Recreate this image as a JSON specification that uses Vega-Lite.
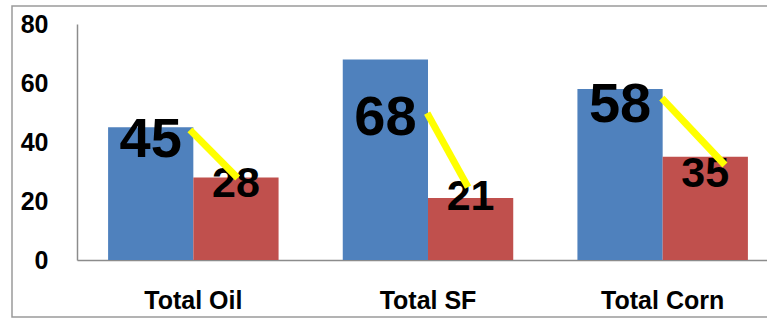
{
  "$schema": "https://vega.github.io/schema/vega-lite/v6.json",
  "autosize": {"type": "none"},
  "width": 760,
  "height": 311,
  "padding": {"left": 12, "top": 6, "right": 0, "bottom": 1},
  "background": "white",
  "config": {
    "view": {"stroke": "#9a9a9a", "strokeWidth": 1.5},
    "font": "Liberation Sans",
    "axis": {
      "domainColor": "#8c8c8c",
      "domainWidth": 1.5,
      "ticks": false,
      "grid": false,
      "labelFont": "Liberation Sans",
      "labelFontWeight": "bold",
      "labelFontSize": 25,
      "labelColor": "black"
    }
  },
  "datasets": {
    "bars": [
      {"category": "Total Oil", "series": "Series 1", "value": 45, "labelY": 34.9},
      {"category": "Total Oil", "series": "Series 2", "value": 28, "labelY": 21.4},
      {"category": "Total SF", "series": "Series 1", "value": 68, "labelY": 42.4},
      {"category": "Total SF", "series": "Series 2", "value": 21, "labelY": 16.9},
      {"category": "Total Corn", "series": "Series 1", "value": 58, "labelY": 46.8},
      {"category": "Total Corn", "series": "Series 2", "value": 35, "labelY": 24.7}
    ],
    "leaders": [
      {"category": "Total Oil", "offset": 0.96, "level": 44.1},
      {"category": "Total Oil", "offset": 1.52, "level": 27.8},
      {"category": "Total SF", "offset": 0.99, "level": 49.8},
      {"category": "Total SF", "offset": 1.47, "level": 24.7},
      {"category": "Total Corn", "offset": 0.99, "level": 54.9},
      {"category": "Total Corn", "offset": 1.73, "level": 32.2}
    ]
  },
  "layer": [
    {
      "data": {"name": "bars"},
      "mark": {"type": "bar"},
      "encoding": {
        "x": {
          "field": "category", "type": "nominal",
          "sort": ["Total Oil", "Total SF", "Total Corn"],
          "scale": {"range": [65, 767], "paddingInner": 0.2735, "paddingOuter": 0.1325},
          "axis": {"labelAngle": 0, "labelPadding": 28, "title": null, "offset": -57}
        },
        "xOffset": {"field": "series", "type": "nominal", "scale": {"type": "band", "paddingInner": 0, "paddingOuter": 0}},
        "y": {
          "field": "value", "type": "quantitative",
          "scale": {"domain": [0, 80], "nice": false, "range": [254, 18]},
          "axis": {"values": [0, 20, 40, 60, 80], "labelPadding": 29, "title": null, "offset": -65}
        },
        "color": {"field": "series", "type": "nominal", "scale": {"range": ["#4F81BD", "#C0504D"]}, "legend": null}
      }
    },
    {
      "data": {"name": "bars"},
      "transform": [{"filter": "datum.series === 'Series 1'"}],
      "mark": {"type": "text", "baseline": "alphabetic", "align": "center", "fontWeight": "bold", "fontSize": 56, "color": "black"},
      "encoding": {
        "x": {"field": "category", "type": "nominal", "sort": ["Total Oil", "Total SF", "Total Corn"]},
        "xOffset": {"field": "series", "type": "nominal", "scale": {"type": "band", "domain": ["Series 1", "Series 2"], "paddingInner": 0, "paddingOuter": 0}},
        "y": {"field": "labelY", "type": "quantitative"},
        "text": {"field": "value", "type": "quantitative"}
      }
    },
    {
      "data": {"name": "bars"},
      "transform": [{"filter": "datum.series === 'Series 2'"}],
      "mark": {"type": "text", "baseline": "alphabetic", "align": "center", "fontWeight": "bold", "fontSize": 43, "color": "black"},
      "encoding": {
        "x": {"field": "category", "type": "nominal", "sort": ["Total Oil", "Total SF", "Total Corn"]},
        "xOffset": {"field": "series", "type": "nominal", "scale": {"type": "band", "domain": ["Series 1", "Series 2"], "paddingInner": 0, "paddingOuter": 0}},
        "y": {"field": "labelY", "type": "quantitative"},
        "text": {"field": "value", "type": "quantitative"}
      }
    },
    {
      "data": {"name": "leaders"},
      "mark": {"type": "line", "color": "#FFFF00", "strokeWidth": 7, "strokeCap": "butt"},
      "encoding": {
        "x": {"field": "category", "type": "nominal", "sort": ["Total Oil", "Total SF", "Total Corn"]},
        "xOffset": {"field": "offset", "type": "quantitative", "scale": {"domain": [0, 2], "range": [0, 170.5], "nice": false, "zero": false}},
        "y": {"field": "level", "type": "quantitative"},
        "detail": {"field": "category", "type": "nominal"},
        "order": {"field": "offset", "type": "quantitative"}
      }
    }
  ],
  "resolve": {"scale": {"xOffset": "independent"}}
}
